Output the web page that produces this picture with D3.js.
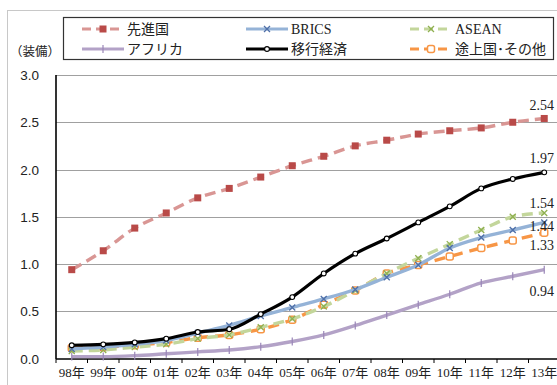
<!DOCTYPE html>
<html>
<head>
<meta charset="utf-8">
<script src="https://cdn.jsdelivr.net/npm/d3@7"></script>
<style>
  body { margin: 0; background: #fff; }
  svg { display: block; }
</style>
</head>
<body>
<svg id="chart" width="557" height="385"></svg>
<script>
(function () {
    'use strict';

    // data
    var years = ["98年", "99年", "00年", "01年", "02年", "03年", "04年", "05年",
        "06年", "07年", "08年", "09年", "10年", "11年", "12年", "13年"];
    var senshin = [0.94, 1.14, 1.38, 1.54, 1.70, 1.80, 1.92, 2.04, 2.14, 2.25, 2.31, 2.375, 2.41, 2.44, 2.50, 2.54];
    var brics = [0.10, 0.12, 0.15, 0.19, 0.27, 0.35, 0.45, 0.54, 0.63, 0.73, 0.86, 0.99, 1.17, 1.28, 1.36, 1.44];
    var asean = [0.08, 0.09, 0.12, 0.15, 0.21, 0.25, 0.33, 0.42, 0.55, 0.72, 0.90, 1.06, 1.21, 1.36, 1.50, 1.54];
    var africa = [0.02, 0.02, 0.03, 0.05, 0.07, 0.09, 0.125, 0.18, 0.25, 0.35, 0.46, 0.57, 0.68, 0.80, 0.87, 0.94];
    var iko = [0.14, 0.15, 0.17, 0.21, 0.28, 0.31, 0.47, 0.65, 0.90, 1.11, 1.27, 1.44, 1.61, 1.80, 1.90, 1.97];
    var tojo = [0.11, 0.12, 0.14, 0.17, 0.22, 0.25, 0.31, 0.41, 0.57, 0.72, 0.90, 0.99, 1.08, 1.17, 1.25, 1.33];
    var yTicks = [0, 0.5, 1.0, 1.5, 2.0, 2.5, 3.0];

    var series = [
        { name: "先進国", values: senshin, line: "#d99694", mark: "#b94a48", dash: "11,6", marker: "square", labelDy: -13 },
        { name: "BRICS", values: brics, line: "#95b3d7", mark: "#4f6fa8", dash: null, marker: "cross", labelDy: 4 },
        { name: "ASEAN", values: asean, line: "#c3d69b", mark: "#8fb050", dash: "11,6", marker: "cross", labelDy: -10 },
        { name: "アフリカ", values: africa, line: "#b3a2c7", mark: "#9a86b8", dash: null, marker: "bar", labelDy: 21 },
        { name: "移行経済", values: iko, line: "#000000", mark: "#000000", dash: null, marker: "circle", labelDy: -14 },
        { name: "途上国･その他", values: tojo, line: "#f79646", mark: "#f79646", dash: "11,7", marker: "open", labelDy: 12 }
    ];
    // draw order: back to front
    var drawOrder = [3, 5, 2, 1, 4, 0];

    var svg = d3.select("#chart");
    var numFont = "'Liberation Serif', 'Noto Sans CJK JP', serif";

    // outer frame
    svg.append("rect")
        .attr("x", 7.5).attr("y", 10.5)
        .attr("width", 620).attr("height", 420)
        .attr("fill", "none").attr("stroke", "#c8c8c8");

    var x = d3.scaleBand().domain(years).range([56, 560]);
    var y = d3.scaleLinear().domain([0, 3]).range([358.5, 75]);

    // gridlines
    svg.append("g")
        .selectAll("line")
        .data(yTicks.slice(1))
        .enter()
        .append("line")
        .attr("x1", 56).attr("x2", 557)
        .attr("y1", function (d) { return Math.round(y(d)) + 0.5; })
        .attr("y2", function (d) { return Math.round(y(d)) + 0.5; })
        .attr("stroke", "#a0a0a0")
        .attr("stroke-width", 1.2);

    // y axis labels
    svg.append("g")
        .selectAll("text")
        .data(yTicks)
        .enter()
        .append("text")
        .attr("x", 39)
        .attr("y", function (d) { return y(d) + 5; })
        .attr("text-anchor", "end")
        .attr("font-family", "'Liberation Sans', Arial, sans-serif")
        .attr("font-size", 13.5)
        .attr("fill", "#222")
        .text(function (d) { return d.toFixed(1); });

    // x axis
    var xAxis = d3.axisBottom(x).tickSize(0).tickPadding(9);
    var gx = svg.append("g")
        .attr("transform", "translate(0,359)")
        .call(xAxis);
    gx.select(".domain").remove();
    gx.selectAll("text")
        .attr("font-family", numFont)
        .attr("font-size", 13)
        .attr("fill", "#222");

    // x tick marks on band boundaries
    svg.append("g")
        .selectAll("line")
        .data(years)
        .enter()
        .append("line")
        .attr("x1", function (d) { return x(d); })
        .attr("x2", function (d) { return x(d); })
        .attr("y1", 359).attr("y2", 363)
        .attr("stroke", "#000");

    // axis lines
    svg.append("line")
        .attr("x1", 56).attr("x2", 56).attr("y1", 75).attr("y2", 359)
        .attr("stroke", "#000").attr("stroke-width", 1.6);
    svg.append("line")
        .attr("x1", 56).attr("x2", 557).attr("y1", 359).attr("y2", 359)
        .attr("stroke", "#000").attr("stroke-width", 1.6);

    var line = d3.line()
        .x(function (d, i) { return x(years[i]) + x.bandwidth() / 2; })
        .y(function (d) { return y(d); })
        .curve(d3.curveMonotoneX);

    function drawMarker(g, type, s, cx, cy) {
        if (type === "square") {
            g.append("rect")
                .attr("x", cx - 3.5).attr("y", cy - 3.5)
                .attr("width", 7).attr("height", 7)
                .attr("fill", s.mark);
        } else if (type === "cross") {
            g.append("path")
                .attr("d", "M" + (cx - 3) + "," + (cy - 3) + "L" + (cx + 3) + "," + (cy + 3) +
                    "M" + (cx - 3) + "," + (cy + 3) + "L" + (cx + 3) + "," + (cy - 3))
                .attr("stroke", s.mark).attr("stroke-width", 1.3);
        } else if (type === "bar") {
            g.append("line")
                .attr("x1", cx).attr("x2", cx)
                .attr("y1", cy - 4).attr("y2", cy + 4)
                .attr("stroke", s.mark).attr("stroke-width", 1.2);
        } else if (type === "circle") {
            g.append("circle")
                .attr("cx", cx).attr("cy", cy).attr("r", 2.4)
                .attr("fill", "#fff").attr("stroke", "#000").attr("stroke-width", 1.1);
        } else if (type === "open") {
            g.append("rect")
                .attr("x", cx - 3.5).attr("y", cy - 3.5)
                .attr("width", 7).attr("height", 7)
                .attr("rx", 2)
                .attr("fill", "#fff").attr("stroke", s.mark).attr("stroke-width", 1.5);
        }
    }

    drawOrder.forEach(function (k) {
        var s = series[k];
        var g = svg.append("g");
        g.append("path")
            .datum(s.values)
            .attr("d", line)
            .attr("fill", "none")
            .attr("stroke", s.line)
            .attr("stroke-width", k === 4 ? 3.2 : 3.4)
            .attr("stroke-dasharray", s.dash);
        s.values.forEach(function (v, i) {
            drawMarker(g, s.marker, s, x(years[i]) + x.bandwidth() / 2, y(v));
        });
    });

    // end value labels
    svg.append("g")
        .selectAll("text")
        .data(series)
        .enter()
        .append("text")
        .attr("x", 554)
        .attr("y", function (d) { return y(d.values[d.values.length - 1]) + d.labelDy + 5; })
        .attr("text-anchor", "end")
        .attr("font-family", numFont)
        .attr("font-size", 14)
        .attr("fill", "#222")
        .text(function (d) { return d.values[d.values.length - 1].toFixed(2); });

    // unit label
    svg.append("text")
        .attr("x", 10).attr("y", 56)
        .attr("font-family", "'Noto Sans CJK JP', sans-serif")
        .attr("font-size", 12.5)
        .attr("fill", "#222")
        .text("（装備）");

    // legend
    var lg = svg.append("g");
    lg.append("rect")
        .attr("x", 63.5).attr("y", 17.5)
        .attr("width", 490).attr("height", 42)
        .attr("fill", "#fff").attr("stroke", "#333").attr("stroke-width", 1.2);

    var legendPos = [[82, 29], [246, 29], [410, 29], [82, 49], [246, 49], [410, 49]];
    var legendOrder = [0, 1, 2, 3, 4, 5];
    legendOrder.forEach(function (k, j) {
        var s = series[k];
        var lx = legendPos[j][0], ly = legendPos[j][1];
        var g = lg.append("g");
        g.append("line")
            .attr("x1", lx).attr("x2", lx + 42)
            .attr("y1", ly).attr("y2", ly)
            .attr("stroke", s.line)
            .attr("stroke-width", k === 4 ? 3.2 : 3)
            .attr("stroke-dasharray", s.dash ? "9,5" : null);
        drawMarker(g, s.marker, s, lx + 21, ly);
        g.append("text")
            .attr("x", lx + 45)
            .attr("y", ly + 5)
            .attr("font-family", numFont)
            .attr("font-size", 14)
            .attr("fill", "#222")
            .text(s.name);
    });
})();
</script>
</body>
</html>
